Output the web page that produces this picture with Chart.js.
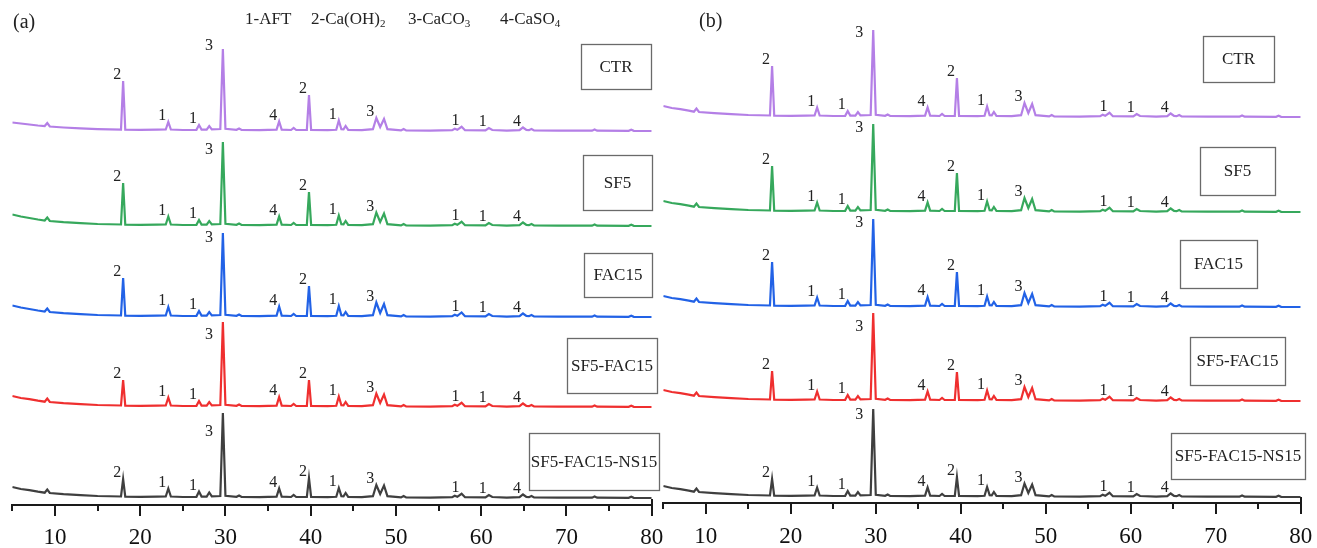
<!DOCTYPE html>
<html><head><meta charset="utf-8">
<script src="https://cdn.jsdelivr.net/npm/chart.js@4.4.1/dist/chart.umd.min.js"></script>
<style>
html,body{margin:0;padding:0;background:#fff;width:1317px;height:548px;overflow:hidden}
#ca{position:absolute;left:0;top:0}
#cb{position:absolute;left:655px;top:0}
</style></head><body>
<canvas id="ca" width="668" height="548"></canvas>
<canvas id="cb" width="662" height="548"></canvas>
<script>
// ---------------- DATA ----------------
const seriesNames = ['CTR','SF5','FAC15','SF5-FAC15','SF5-FAC15-NS15'];
const xTickValues = [10,20,30,40,50,60,70,80];

// 2θ sample positions (degrees)
const twoThetaA = [5,6,7,8,8.8,9.1,9.4,11,13,15,
  17.75,18,18.25,20,22,23,23.3,23.6,25,26.6,
  26.9,27.2,27.8,28.1,28.4,29.4,29.7,30,31.3,31.6,
  31.9,34,36,36.3,36.6,37.7,38,38.3,39.55,39.8,
  40.05,42,43,43.3,43.6,43.85,44.1,44.4,46,47.3,
  47.7,48.15,48.6,49,50.6,50.9,51.2,54,56.6,56.9,
  57.2,57.7,58.1,60.5,60.9,61.3,63,64.5,64.9,65.3,
  65.6,65.9,66.2,69,73,73.3,73.6,77.3,77.6,77.9,80];
const twoThetaB = [5,6,7,8,8.6,8.9,9.2,11,13,15,
  17.55,17.8,18.05,20,21.8,22.8,23.1,23.4,25,26.4,
  26.7,27,27.6,27.9,28.2,29.4,29.7,30,31.1,31.4,
  31.7,34,35.8,36.1,36.4,37.5,37.8,38.1,39.3,39.55,
  39.8,42,42.8,43.1,43.4,43.65,43.9,44.2,46,47.1,
  47.5,47.95,48.4,48.8,50.4,50.7,51,54,56.4,56.7,
  57,57.5,57.9,60.3,60.7,61.1,63,64.3,64.7,65.1,
  65.4,65.7,66,69,72.8,73.1,73.4,77.1,77.4,77.7,80];

// intensities (a.u.) — panel (a)
const ctrA = [8.5,7.5,6.5,5.5,5,8,4.5,3.5,2.6,1.9,
  1.4,50,1.4,1.2,1.3,1.5,9,1.5,1,1.2,
  6,1.4,1.4,5,1.6,2,82,2.2,1.2,2.5,
  1,0.8,1.4,9.5,1.4,1,3,1,1.2,36,
  1.2,0.8,1.2,10.5,1.8,1.6,5,1.2,0.8,1.8,
  13,4,12,1.8,0.6,2,0.6,0.4,0.8,2.2,
  1.2,4.2,0.8,0.6,3,1,0.4,0.8,3.5,1,
  0.8,2,0.6,0.3,0.3,1.5,0.3,0.2,1.2,0.2,0];
const sf5A = [11.5,9.5,8,6.5,5.5,8.5,5,3.8,2.8,2,
  1.5,43,1.4,1.2,1.3,1.5,9.5,1.5,1,1.2,
  6,1.4,1.4,5,1.6,2,84,2.2,1.2,2.5,
  1,0.8,1.4,9.5,1.4,1,3,1,1.2,34,
  1.2,0.8,1.2,10.5,1.8,1.6,5,1.2,0.8,1.8,
  13.5,4,12.5,1.8,0.6,2,0.6,0.4,0.8,2.2,
  1.2,4.2,0.8,0.6,3,1,0.4,0.8,3.5,1,
  0.8,2,0.6,0.3,0.3,1.5,0.3,0.2,1.2,0.2,0];
const fac15A = [11.5,9.5,8,6.5,5.5,8.5,5,3.8,2.8,2,
  1.5,39,1.4,1.2,1.3,1.5,10,1.5,1,1.2,
  6,1.4,1.4,5,1.6,2,84,2.2,1.2,2.5,
  1,0.8,1.4,10.5,1.4,1,3,1,1.2,31,
  1.2,0.8,1.2,11,1.8,1.6,5,1.2,0.8,1.8,
  14.5,4,13,1.8,0.6,2,0.6,0.4,0.8,2.2,
  1.2,4.5,0.8,0.6,3,1,0.4,0.8,3.5,1,
  0.8,2,0.6,0.3,0.3,1.5,0.3,0.2,1.2,0.2,0];
const sf5fac15A = [11,9,7.8,6.3,5.3,8.5,5,3.8,2.8,2,
  1.5,27,1.4,1.2,1.3,1.5,9.5,1.5,1,1.2,
  6,1.4,1.4,5,1.6,2,85,2.2,1.2,2.5,
  1,0.8,1.4,10,1.4,1,3,1,1.2,27,
  1.2,0.8,1.2,10.5,1.8,1.6,5,1.2,0.8,1.8,
  13.5,4,12.5,1.8,0.6,2,0.6,0.4,0.8,2.2,
  1.2,4.2,0.8,0.6,3,1,0.4,0.8,3.5,1,
  0.8,2,0.6,0.3,0.3,1.5,0.3,0.2,1.2,0.2,0];
const ns15A = [11,9,7.8,6.3,5.3,8.5,5,3.8,2.8,2,
  1.5,19,1.4,1.2,1.3,1.5,9.5,1.5,1,1.2,
  6.5,1.4,1.4,5.5,1.6,2,85,2.2,1.2,2.5,
  1,0.8,1.4,9.5,1.4,1,3,1,1.2,20,
  1.2,0.8,1.2,10,1.8,1.6,5,1.2,0.8,1.8,
  13,4,12.5,1.8,0.6,2,0.6,0.4,0.8,2.2,
  1.2,4.2,0.8,0.6,3,1,0.4,0.8,3.5,1,
  0.8,2,0.6,0.3,0.3,1.5,0.3,0.2,1.2,0.2,0];

// intensities (a.u.) — panel (b)
const ctrB = [11,9,7.8,6.3,5.3,8.5,5,3.8,2.8,2,
  1.5,51,1.4,1.2,1.3,1.5,9.5,1.5,1,1.2,
  6,1.4,1.4,5,1.6,2,87,2.2,1.2,2.5,
  1,0.8,1.4,9.5,1.4,1,3,1,1.2,39,
  1.2,0.8,1.2,10.5,1.8,1.6,5,1.2,0.8,1.8,
  14,4,13,1.8,0.6,2,0.6,0.4,0.8,2.2,
  1.2,4.2,0.8,0.6,3,1,0.4,0.8,3.5,1,
  0.8,2,0.6,0.3,0.3,1.5,0.3,0.2,1.2,0.2,0];
const sf5B = [11,9,7.8,6.3,5.3,8.5,5,3.8,2.8,2,
  1.5,46,1.4,1.2,1.3,1.5,9.5,1.5,1,1.2,
  6,1.4,1.4,5,1.6,2,88,2.2,1.2,2.5,
  1,0.8,1.4,9.5,1.4,1,3,1,1.2,39,
  1.2,0.8,1.2,10.5,1.8,1.6,5,1.2,0.8,1.8,
  14,4,13,1.8,0.6,2,0.6,0.4,0.8,2.2,
  1.2,4.2,0.8,0.6,3,1,0.4,0.8,3.5,1,
  0.8,2,0.6,0.3,0.3,1.5,0.3,0.2,1.2,0.2,0];
const fac15B = [11,9,7.8,6.3,5.3,8.5,5,3.8,2.8,2,
  1.5,45,1.4,1.2,1.3,1.5,9.5,1.5,1,1.2,
  6,1.4,1.4,5,1.6,2,88,2.2,1.2,2.5,
  1,0.8,1.4,10,1.4,1,3,1,1.2,35,
  1.2,0.8,1.2,10.5,1.8,1.6,5,1.2,0.8,1.8,
  14,4,13,1.8,0.6,2,0.6,0.4,0.8,2.2,
  1.2,4.2,0.8,0.6,3,1,0.4,0.8,3.5,1,
  0.8,2,0.6,0.3,0.3,1.5,0.3,0.2,1.2,0.2,0];
const sf5fac15B = [11,9,7.8,6.3,5.3,8.5,5,3.8,2.8,2,
  1.5,30,1.4,1.2,1.3,1.5,9.5,1.5,1,1.2,
  6,1.4,1.4,5,1.6,2,88,2.2,1.2,2.5,
  1,0.8,1.4,9.5,1.4,1,3,1,1.2,29,
  1.2,0.8,1.2,10.5,1.8,1.6,5,1.2,0.8,1.8,
  14,4,13,1.8,0.6,2,0.6,0.4,0.8,2.2,
  1.2,4.2,0.8,0.6,3,1,0.4,0.8,3.5,1,
  0.8,2,0.6,0.3,0.3,1.5,0.3,0.2,1.2,0.2,0];
const ns15B = [11,9,7.8,6.3,5.3,8.5,5,3.8,2.8,2,
  1.5,18,1.4,1.2,1.3,1.5,9.5,1.5,1,1.2,
  6,1.4,1.4,5,1.6,2,88,2.2,1.2,2.5,
  1,0.8,1.4,9.5,1.4,1,3,1,1.2,20,
  1.2,0.8,1.2,10,1.8,1.6,5,1.2,0.8,1.8,
  13.5,4,12.5,1.8,0.6,2,0.6,0.4,0.8,2.2,
  1.2,4.2,0.8,0.6,3,1,0.4,0.8,3.5,1,
  0.8,2,0.6,0.3,0.3,1.5,0.3,0.2,1.2,0.2,0];

// vertical stacking offsets (a.u.)
const offsetsA = [374,279,188,98,7];
const offsetsB = [386,291,196,102,6];

// phase labels and the peaks they mark
const peakLabels = ['2','1','1','3','4','2','1','3','1','1','4'];
const peakLabelPosA = [18,23.3,26.9,29.7,36.3,39.8,43.3,47.7,57.7,60.9,64.9];
const peakLabelPosB = [17.8,23.1,26.7,29.7,36.1,39.55,43.1,47.5,57.5,60.7,64.7];
const phaseLegend = [['1-AFT',''],['2-Ca(OH)','2'],['3-CaCO','3'],['4-CaSO','4']];

// ---------------- STYLE / LAYOUT ----------------
const colors = ['#b47fe6','#36a85c','#2262e6','#ef2f2f','#3f3f3f'];
const SERIF = '"Liberation Serif","Times New Roman",serif';
const layoutA = {
  left:0, axisH:43, yMax:500, pad:{left:12.3,right:16.3,top:5,bottom:0}, tickGap:19,
  main3:[85,76,79,72,66],
  boxes:[[581,44,651,89],[583,155,652,210],[584,253,652,297],[567,338,657,393],[529,433,659,490]],
  letter:['(a)',13,23], legend:true
};
const layoutB = {
  left:655, axisH:45, yMax:498, pad:{left:8.3,right:16.3,top:5,bottom:0}, tickGap:20,
  main3:[84,84,84,74,82],
  boxes:[[1203,36,1274,82],[1200,147,1275,195],[1180,240,1257,288],[1190,337,1285,385],[1171,433,1305,479]],
  letter:['(b)',699,22], legend:false
};

function makeDecor(L, theta, labelPos, series, offsets) {
  return {
    id: 'decor',
    afterDraw(chart) {
      const ctx = chart.ctx, xs = chart.scales.x, ys = chart.scales.y;
      ctx.save();
      // axis ticks (major at 10s, minor at 5s)
      ctx.strokeStyle = '#1a1a1a'; ctx.lineWidth = 2;
      const yAx = xs.top;
      for (let v = 5; v <= 80; v += 5) {
        const px = Math.round(xs.getPixelForValue(v));
        const len = v % 10 === 0 ? 11 : 6;
        ctx.beginPath(); ctx.moveTo(px, yAx - (v === 80 ? 6 : 0)); ctx.lineTo(px, yAx + len); ctx.stroke();
      }
      // peak labels
      ctx.fillStyle = '#222';
      ctx.font = '16px ' + SERIF;
      ctx.textAlign = 'center'; ctx.textBaseline = 'middle';
      series.forEach((arr, s) => {
        peakLabels.forEach((t, j) => {
          const p = labelPos[j];
          const idx = theta.indexOf(p);
          const px = xs.getPixelForValue(p);
          if (j === 3) {
            ctx.fillText(t, px - 14, ys.getPixelForValue(offsets[s] + L.main3[s]));
          } else {
            ctx.fillText(t, px - 6, ys.getPixelForValue(offsets[s] + arr[idx]) - 6);
          }
        });
      });
      // sample boxes
      L.boxes.forEach((b, s) => {
        const x0 = b[0] - L.left, y0 = b[1], w = b[2] - b[0], h = b[3] - b[1];
        ctx.fillStyle = '#fff'; ctx.fillRect(x0, y0, w, h);
        ctx.strokeStyle = '#6a6a6a'; ctx.lineWidth = 1.3;
        ctx.strokeRect(x0 + 0.5, y0 + 0.5, w, h);
        ctx.fillStyle = '#222'; ctx.font = '17px ' + SERIF;
        ctx.textAlign = 'center'; ctx.textBaseline = 'middle';
        ctx.fillText(seriesNames[s], x0 + w / 2, y0 + h / 2 + 1);
      });
      // panel letter
      ctx.font = '20px ' + SERIF; ctx.textAlign = 'left'; ctx.textBaseline = 'middle';
      ctx.fillText(L.letter[0], L.letter[1] - L.left, L.letter[2]);
      // phase legend
      if (L.legend) {
        const starts = [245, 311, 408, 500];
        ctx.textBaseline = 'alphabetic';
        phaseLegend.forEach((p, i) => {
          ctx.font = '17px ' + SERIF;
          ctx.fillText(p[0], starts[i], 24);
          if (p[1]) {
            const w = ctx.measureText(p[0]).width;
            ctx.font = '11px ' + SERIF;
            ctx.fillText(p[1], starts[i] + w, 27);
          }
        });
      }
      ctx.restore();
    }
  };
}

function build(canvasId, L, theta, series, offsets, labelPos) {
  const datasets = series.map((arr, s) => ({
    label: seriesNames[s],
    data: theta.map((x, i) => ({x: x, y: arr[i] + offsets[s]})),
    borderColor: colors[s], borderWidth: 2.2, pointRadius: 0, tension: 0, fill: false
  }));
  return new Chart(document.getElementById(canvasId), {
    type: 'line',
    data: { datasets },
    options: {
      responsive: false, animation: false, devicePixelRatio: 1,
      layout: { padding: L.pad },
      plugins: { legend: { display: false }, tooltip: { enabled: false } },
      scales: {
        x: {
          type: 'linear', min: 5, max: 80,
          afterBuildTicks: sc => { sc.ticks = xTickValues.map(v => ({value: v})); },
          afterFit: sc => { sc.height = L.axisH; },
          grid: { display: true, drawOnChartArea: false, drawTicks: true, tickLength: L.tickGap, color: 'rgba(0,0,0,0)' },
          border: { display: true, color: '#1a1a1a', width: 2 },
          ticks: { color: '#111', padding: 0, maxRotation: 0, autoSkip: false,
                   font: { family: SERIF, size: 23 } }
        },
        y: { display: false, min: 0, max: L.yMax }
      }
    },
    plugins: [makeDecor(L, theta, labelPos, series, offsets)]
  });
}

build('ca', layoutA, twoThetaA, [ctrA, sf5A, fac15A, sf5fac15A, ns15A], offsetsA, peakLabelPosA);
build('cb', layoutB, twoThetaB, [ctrB, sf5B, fac15B, sf5fac15B, ns15B], offsetsB, peakLabelPosB);
</script>
</body></html>
